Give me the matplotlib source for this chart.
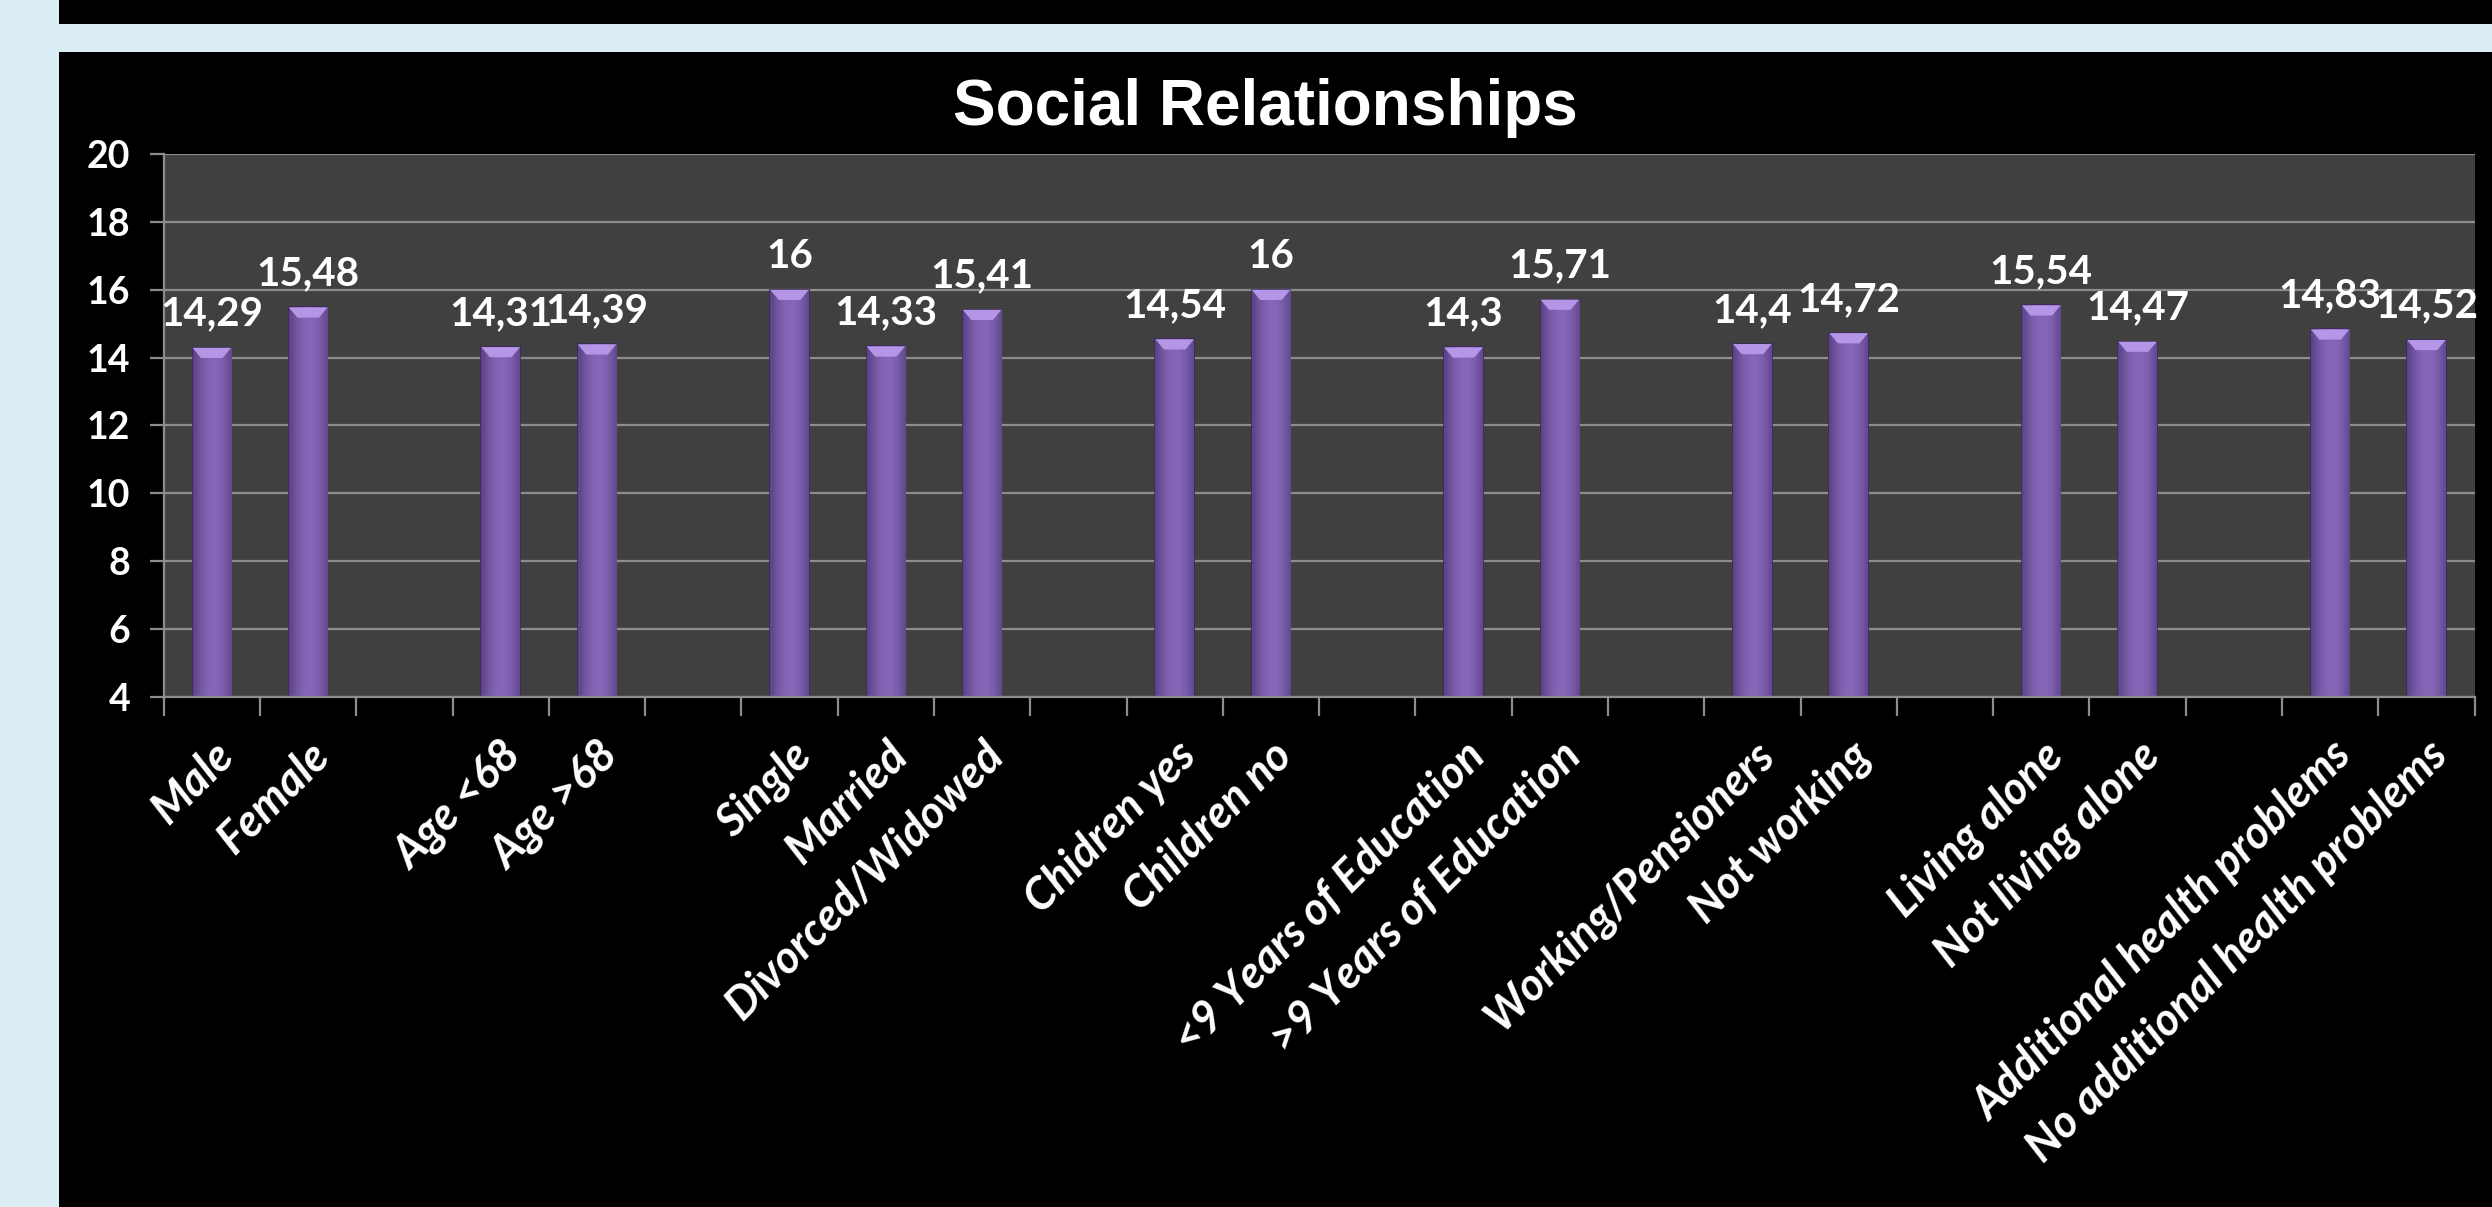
import numpy as np
import matplotlib
matplotlib.use('Agg')
from matplotlib import pyplot as plt
from matplotlib.patches import Rectangle, Polygon

# chart data
labels = ['Male', 'Female',
          'Age <68', 'Age >68',
          'Single', 'Married', 'Divorced/Widowed',
          'Chidren yes', 'Children no',
          '<9 Years of Education', '>9 Years of Education',
          'Working/Pensioners', 'Not working',
          'Living alone', 'Not living alone',
          'Additional health problems', 'No additional health problems']
values = [14.29, 15.48,
          14.31, 14.39,
          16, 14.33, 15.41,
          14.54, 16,
          14.3, 15.71,
          14.4, 14.72,
          15.54, 14.47,
          14.83, 14.52]
group_sizes = [2, 2, 3, 2, 2, 2, 2, 2]
y_ticks = [4, 6, 8, 10, 12, 14, 16, 18, 20]
title = 'Social Relationships'

# one empty slot between groups
positions = []
slot = 0
for n in group_sizes:
    for k in range(n):
        positions.append(slot + 0.5)
        slot += 1
    slot += 1
n_slots = slot - 1

fig = plt.figure(figsize=(24.92, 12.07), dpi=100, facecolor='#daedf4')
fig.patches.append(Rectangle((37 / 1568, 1 - 15 / 759), 1, 1, transform=fig.transFigure,
                             facecolor='black', edgecolor='none', zorder=-10))
fig.patches.append(Rectangle((37 / 1568, 0), 1, 1 - 33 / 759, transform=fig.transFigure,
                             facecolor='black', edgecolor='none', zorder=-10))

left, right, top, bottom = 103 / 1568, 1557 / 1568, 1 - 97 / 759, 1 - 438 / 759
ax = fig.add_axes([left, bottom, right - left, top - bottom], zorder=2)
ax.set_facecolor('#404040')

grid_c = '#8c8c8c'
ax.set_yticks(y_ticks)
ax.yaxis.grid(True, color=grid_c, linewidth=1.6)
ax.set_axisbelow(True)
for s in ['top', 'right']:
    ax.spines[s].set_visible(False)
for s in ['left', 'bottom']:
    ax.spines[s].set_color(grid_c)
    ax.spines[s].set_linewidth(1.6)

num_font = dict(family=['Lato', 'DejaVu Sans'], weight='bold', color='white')
ax.tick_params(axis='y', colors=grid_c, length=10, width=1.6, pad=14)
for t in ax.get_yticklabels():
    t.set(**num_font, fontsize=27)

# category labels at bar centres, tick marks at slot boundaries
ax.set_xticks(positions)
ax.set_xticklabels(labels, rotation=45, ha='right', va='top', rotation_mode='anchor',
                   family=['Lato', 'DejaVu Sans'], weight='bold', style='italic',
                   color='white', fontsize=32.5)
ax.tick_params(axis='x', which='major', length=0, pad=27)
ax.set_xticks(np.arange(0, n_slots + 1), minor=True)
ax.tick_params(axis='x', which='minor', length=14, width=1.6, colors=grid_c)

bars = ax.bar(positions, [v - 4 for v in values], bottom=4, width=0.4,
              color='#7a5aa8', edgecolor='#3c2a5c', linewidth=1.2, zorder=2)

# soft horizontal shading inside each bar
grad = np.linspace(0, 1, 64)
shade = 0.55 + 0.45 * np.sin(np.pi * (grad * 0.85 + 0.05))
cmap = matplotlib.colors.LinearSegmentedColormap.from_list('bar', ['#4e3677', '#8566b8'])
for b, v in zip(bars, values):
    x0 = b.get_x()
    w = b.get_width()
    img = ax.imshow(np.tile(shade, (2, 1)), cmap=cmap, vmin=0.5, vmax=1,
                    extent=[x0, x0 + w, 4, v], aspect='auto', zorder=2.5,
                    interpolation='bicubic')
    img.set_clip_path(b)
    cap = 0.3
    d = w * 0.22
    ax.add_patch(Polygon([[x0, v], [x0 + w, v], [x0 + w - d, v - cap], [x0 + d, v - cap]],
                         closed=True, facecolor='#b596e6', edgecolor='none', zorder=3))
    ax.annotate('{:g}'.format(v).replace('.', ','), (x0 + w / 2, v),
                xytext=(0, 11), textcoords='offset points', ha='center', va='bottom',
                fontsize=29, **num_font, zorder=4)
ax.set_xlim(0, n_slots)
ax.set_ylim(4, 20)

fig.text(796 / 1568, 1 - 68 / 759, title, ha='center', va='center', color='white',
         fontsize=46, fontweight='bold', family=['Liberation Sans', 'DejaVu Sans'])

fig.savefig('out.png', dpi=100, facecolor=fig.get_facecolor())
